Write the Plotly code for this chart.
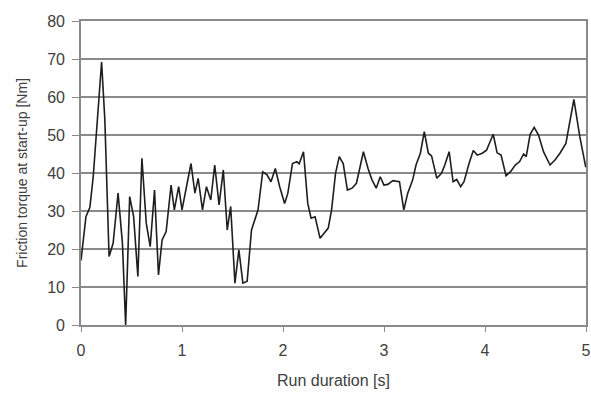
import plotly.graph_objects as go

time_s = [0.0, 0.049, 0.088, 0.121, 0.204, 0.236, 0.278, 0.318, 0.367, 0.410, 0.442, 0.482, 0.521, 0.563,
          0.603, 0.646, 0.685, 0.728, 0.767, 0.803, 0.843, 0.892, 0.924, 0.967, 1.0, 1.089, 1.128, 1.160,
          1.203, 1.242, 1.285, 1.324, 1.367, 1.409, 1.448, 1.482, 1.524, 1.563, 1.603, 1.645, 1.688, 1.753,
          1.799, 1.842, 1.881, 1.924, 1.967, 2.016, 2.048, 2.094, 2.137, 2.160, 2.203, 2.245, 2.278, 2.318,
          2.367, 2.409, 2.448, 2.481, 2.520, 2.557, 2.596, 2.638, 2.684, 2.727, 2.796, 2.842, 2.881, 2.923,
          2.963, 2.999, 3.038, 3.088, 3.153, 3.196, 3.235, 3.284, 3.317, 3.360, 3.399, 3.439, 3.471, 3.523,
          3.569, 3.602, 3.645, 3.684, 3.720, 3.759, 3.792, 3.842, 3.884, 3.923, 3.973, 4.015, 4.081, 4.120,
          4.159, 4.208, 4.251, 4.300, 4.343, 4.382, 4.408, 4.447, 4.487, 4.530, 4.579, 4.644, 4.693, 4.742,
          4.801, 4.880, 4.939, 4.998]
torque_nm = [17, 28.5, 31, 39, 69.2, 54, 18, 21.5, 34.7, 21.6, 0, 33.8, 28.5, 12.8,
             43.9, 26.8, 20.6, 35.5, 13.2, 22.4, 24.6, 36.8, 30.3, 36.4, 30.3, 42.5, 34.7, 38.6,
             30.3, 36.4, 32.9, 42.1, 31.6, 40.8, 25, 31.2, 11, 19.8, 11, 11.5, 25, 30.3,
             40.3, 39.5, 37.7, 41.2, 36.4, 32, 34.7, 42.5, 43, 42.4, 45.6, 32, 28.1, 28.5,
             22.8, 24.2, 25.5, 30.3, 39.9, 44.3, 42.5, 35.5, 36, 37.3, 45.6, 41.2, 38.2, 36,
             39, 36.8, 37, 38, 37.7, 30.3, 34.7, 38.2, 42.1, 45.2, 50.9, 45.2, 44.5, 38.6,
             39.9, 42.1, 45.6, 37.7, 38.3, 36.4, 37.7, 42.5, 45.9, 44.7, 45.2, 46, 50.2, 45.3,
             44.7, 39.3, 40.3, 42.1, 43, 45, 44.3, 50.2, 52, 50, 45.6, 42.1, 43.4, 45.2,
             47.8, 59.4, 49.5, 41.5]

x_ticks = [0, 1, 2, 3, 4, 5]
y_ticks = [0, 10, 20, 30, 40, 50, 60, 70, 80]

fig = go.Figure()
fig.add_trace(go.Scatter(x=time_s, y=torque_nm, mode="lines",
                         line=dict(color="#1e1e1e", width=1.6), showlegend=False))

text_color = "#404040"
family = "Liberation Sans, Arial, sans-serif"
fig.update_layout(
    width=591, height=394,
    margin=dict(l=81, r=5, t=21, b=69),
    paper_bgcolor="white", plot_bgcolor="white",
    font=dict(family=family, size=16, color=text_color),
    xaxis=dict(range=[0, 5], tickvals=x_ticks, showgrid=False, zeroline=False, automargin=False,
               showline=True, linecolor="#8a8a8a", linewidth=1.6, mirror=True,
               ticks="outside", ticklen=5, tickcolor="#8a8a8a", tickwidth=1.3,
               ticklabelstandoff=5,
               tickfont=dict(family=family, size=16, color=text_color),
               title=dict(text="Run duration [s]", standoff=17,
                          font=dict(family=family, size=16, color=text_color))),
    yaxis=dict(range=[0, 80], tickvals=y_ticks, showgrid=True, gridcolor="#8a8a8a", gridwidth=1.6,
               zeroline=False, automargin=False, showline=True, linecolor="#8a8a8a", linewidth=1.6, mirror=True,
               ticks="outside", ticklen=7, tickcolor="#8a8a8a", tickwidth=1.3,
               ticklabelstandoff=4,
               tickfont=dict(family=family, size=16, color=text_color),
               title=dict(text="Friction torque at start-up [Nm]", standoff=16,
                          font=dict(family=family, size=14, color=text_color))),
)
fig.write_html("out.html", config={"displayModeBar": False},
               post_script="document.body.style.margin='0';")
